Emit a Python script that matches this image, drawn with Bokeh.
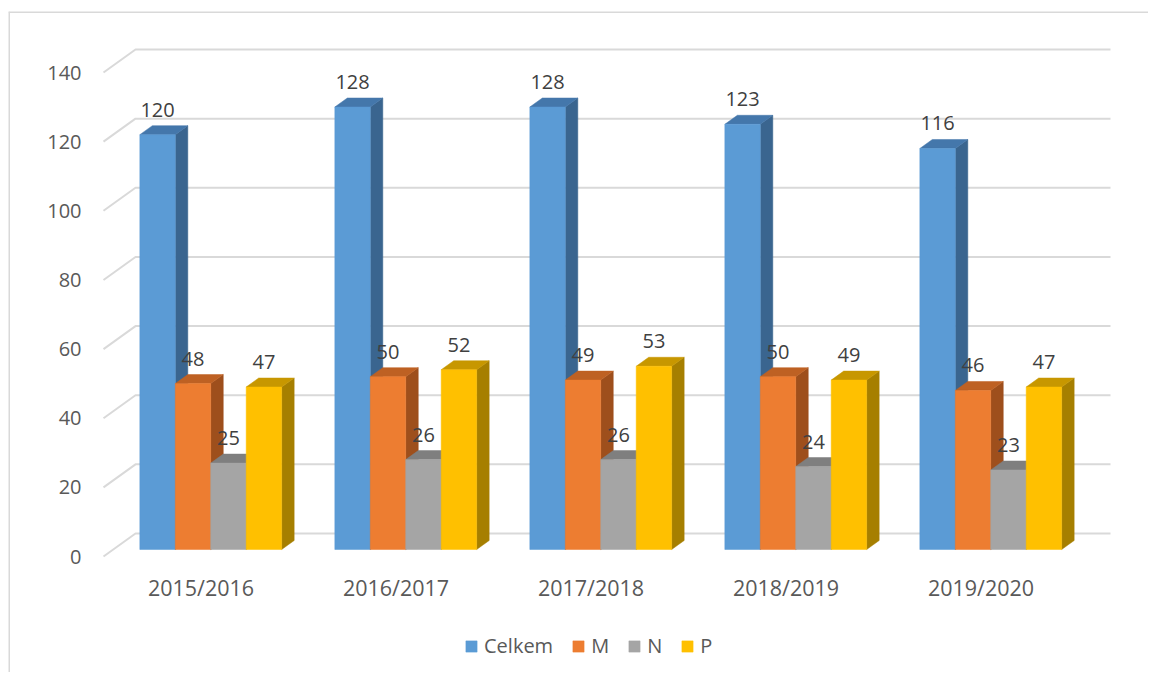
from bokeh.plotting import figure
from bokeh.models import Span, Legend, LegendItem, Range1d
from bokeh.core.properties import value
from bokeh.embed import file_html
from bokeh.resources import INLINE

# ---- data ----
categories = ["2015/2016", "2016/2017", "2017/2018", "2018/2019", "2019/2020"]
series_names = ["Celkem", "M", "N", "P"]
celkem = [120, 128, 128, 123, 116]
m_vals = [48, 50, 49, 50, 46]
n_vals = [25, 26, 26, 24, 23]
p_vals = [47, 52, 53, 49, 47]
y_ticks = [0, 20, 40, 60, 80, 100, 120, 140]

front_colors = ["#5B9BD5", "#ED7D31", "#A5A5A5", "#FFC000"]
top_colors = ["#4477AB", "#BE6123", "#7F7F7F", "#C79700"]
side_colors = ["#3A658F", "#9E4F1C", "#6E6E6E", "#A67F00"]

# ---- layout (pixel geometry of the 3D projection) ----
W, H = 1148, 672
BORDER_LEFT, BORDER_TOP = 8, 11          # frame position on page
X0_PX, CAT_PX = 103, 195                 # front-plane origin and category width
Y0_PX, SCALE = 533, 3.457                # back-wall zero line and px per unit
DEPTH_DX_PX, DEPTH_DY_PX = 32, 23

DX = DEPTH_DX_PX / CAT_PX
DY = DEPTH_DY_PX / SCALE
D1, D2 = 7 / 23, 16 / 23                 # bar front/back depth fractions
BW = 1 / 5.5                              # bar width (gap width 150%)

x_start = (BORDER_LEFT - X0_PX) / CAT_PX
x_end = (W - X0_PX) / CAT_PX
y_end = (Y0_PX - BORDER_TOP) / SCALE
y_start = (Y0_PX - H) / SCALE

p = figure(width=W, height=H, output_backend="svg", toolbar_location=None,
           x_range=Range1d(x_start, x_end), y_range=Range1d(y_start, y_end),
           min_border_left=BORDER_LEFT, min_border_right=0, min_border_bottom=0,
           min_border_top=BORDER_TOP)
p.axis.visible = False
p.grid.visible = False
p.outline_line_color = None
p.background_fill_color = "white"
p.border_fill_color = "white"

# chart border (left and top edges)
p.add_layout(Span(location=x_start, dimension="height", line_color="#d9d9d9", line_width=3))
p.add_layout(Span(location=y_end, dimension="width", line_color="#d9d9d9", line_width=3))

n_cat = len(categories)

# gridlines: diagonal on side wall + horizontal on back wall
gx, gy = [], []
for t in y_ticks:
    gx.append([0, DX, n_cat + DX])
    gy.append([t - DY, t, t])
p.multi_line(gx, gy, line_color="#d9d9d9", line_width=2)

# y tick labels
p.text(x=[0] * len(y_ticks), y=[t - DY for t in y_ticks], text=[str(t) for t in y_ticks],
       x_offset=-22, text_align="right", text_baseline="middle",
       text_font=value("Open Sans"), text_font_size="20px", text_color="#595959")

# category labels
p.text(x=[i + 0.5 for i in range(n_cat)], y=[-DY] * n_cat, text=categories,
       y_offset=31, text_align="center", text_baseline="middle",
       text_font=value("Open Sans"), text_font_size="21.5px", text_color="#595959")

all_vals = [celkem, m_vals, n_vals, p_vals]
legend_items = []
for j, vals in enumerate(all_vals):
    fxs, fys, sxs, sys_, txs, tys = [], [], [], [], [], []
    lx, ly = [], []
    for i, v in enumerate(vals):
        xl = i + 0.5 - 2 * BW + j * BW
        xr = xl + BW
        yb1 = -(1 - D1) * DY
        yb2 = -(1 - D2) * DY
        yt1 = v - (1 - D1) * DY
        yt2 = v - (1 - D2) * DY
        fxs.append([xl + D1 * DX, xr + D1 * DX, xr + D1 * DX, xl + D1 * DX])
        fys.append([yb1, yb1, yt1, yt1])
        sxs.append([xr + D1 * DX, xr + D2 * DX, xr + D2 * DX, xr + D1 * DX])
        sys_.append([yb1, yb2, yt2, yt1])
        txs.append([xl + D1 * DX, xr + D1 * DX, xr + D2 * DX, xl + D2 * DX])
        tys.append([yt1, yt1, yt2, yt2])
        lx.append(xl + BW / 2 + D1 * DX)
        ly.append(yt1)
    p.patches(sxs, sys_, fill_color=side_colors[j], line_color=side_colors[j], line_width=0.5)
    p.patches(txs, tys, fill_color=top_colors[j], line_color=top_colors[j], line_width=0.5)
    r = p.patches(fxs, fys, fill_color=front_colors[j], line_color=front_colors[j], line_width=0.5)
    legend_items.append(LegendItem(label=series_names[j], renderers=[r]))
    p.text(x=lx, y=ly, text=[str(v) for v in vals], y_offset=-25,
           text_align="center", text_baseline="middle",
           text_font=value("Open Sans"), text_font_size="20px", text_color="#404040")

legend = Legend(items=legend_items, orientation="horizontal", location=(456, 13),
                padding=0, margin=0, spacing=18, label_standoff=6,
                glyph_width=14, glyph_height=14, label_width=0,
                label_text_font="Open Sans", label_text_font_size="20px",
                label_text_color="#595959", border_line_color=None,
                background_fill_alpha=0)
p.add_layout(legend)

open("out.html", "w").write(file_html(p, INLINE))
